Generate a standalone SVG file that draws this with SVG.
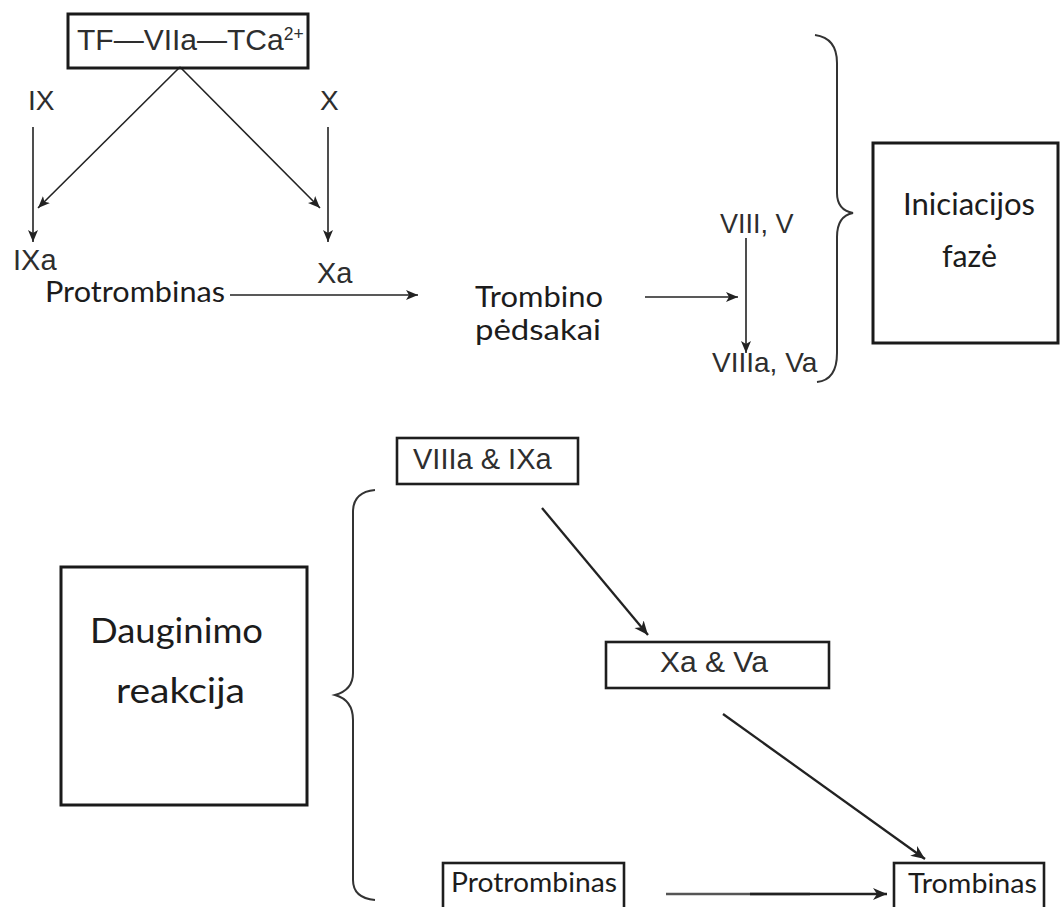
<svg xmlns="http://www.w3.org/2000/svg" width="1061" height="907" viewBox="0 0 1061 907">
<style>
.ar{font-family:"Liberation Sans",Arial,sans-serif;fill:#2e2e2e}
.ca{font-family:Lato,"Open Sans",sans-serif;fill:#1c1c1c}
.box{fill:none;stroke:#1a1a1a;stroke-width:3}
.box2{fill:none;stroke:#1e1e1e;stroke-width:2.6}
.ln{fill:none;stroke:#222;stroke-width:1.6;marker-end:url(#ah)}
.ln2{fill:none;stroke:#222;stroke-width:2.3;marker-end:url(#ah2)}
.br{fill:none;stroke:#333;stroke-width:2}
</style>
<defs>
<marker id="ah" markerUnits="userSpaceOnUse" markerWidth="14" markerHeight="12" refX="12" refY="5" orient="auto">
<path d="M0,0 L12,5 L0,10 L3,5 z" fill="#222"/>
</marker>
<marker id="ah2" markerUnits="userSpaceOnUse" markerWidth="16" markerHeight="14" refX="14" refY="6" orient="auto">
<path d="M0,0 L14,6 L0,12 L4,6 z" fill="#222"/>
</marker>
</defs>
<rect width="1061" height="907" fill="#fff"/>

<g id="connectors">
<line class="ln" x1="180" y1="67" x2="38" y2="208"/>
<line class="ln" x1="180" y1="67" x2="320" y2="208"/>
<line class="ln" x1="33" y1="127" x2="33" y2="242"/>
<line class="ln" x1="328" y1="127" x2="328" y2="242"/>
<line class="ln" x1="230" y1="295" x2="418" y2="295"/>
<line class="ln" x1="645" y1="297" x2="738" y2="297"/>
<line class="ln" x1="746" y1="238" x2="746" y2="353"/>
<line class="ln2" x1="542" y1="508" x2="648" y2="635"/>
<line class="ln2" x1="723" y1="714" x2="925" y2="859"/>
<line x1="666" y1="894" x2="810" y2="894" stroke="#555" stroke-width="2.3"/>
<line class="ln2" x1="750" y1="894" x2="887" y2="894"/>
</g>

<g id="braces">
<path class="br" d="M815,35 Q837,38 837,63 L837,193 Q837,210 853,213 Q837,216 837,237 L837,353 Q837,380 817,382"/>
<path class="br" d="M375,490 Q353,492 353,512 L353,673 Q353,690 335,695 Q353,700 353,720 L353,880 Q353,898 375,900"/>
</g>

<g id="n-complex">
<rect class="box" x="68" y="14" width="240" height="54"/>
<text class="ar" x="77" y="50" font-size="30">TF—VIIa—TCa<tspan font-size="17.5" dy="-10">2+</tspan></text>
</g>
<g id="n-IX"><text class="ar" x="28" y="110" font-size="28">IX</text></g>
<g id="n-X"><text class="ar" x="320" y="110" font-size="28">X</text></g>
<g id="n-IXa"><text class="ar" x="13" y="270" font-size="29">IXa</text></g>
<g id="n-Xa"><text class="ar" x="317" y="283" font-size="29">Xa</text></g>
<g id="n-protrombinas1"><text class="ca" x="45" y="302" font-size="29" textLength="180" lengthAdjust="spacingAndGlyphs">Protrombinas</text></g>
<g id="n-trombino">
<text class="ca" x="475" y="307" font-size="29" textLength="128" lengthAdjust="spacingAndGlyphs">Trombino</text>
<text class="ca" x="475" y="340" font-size="29" textLength="126" lengthAdjust="spacingAndGlyphs">pėdsakai</text>
</g>
<g id="n-VIII"><text class="ar" x="720" y="233" font-size="27">VIII, V</text></g>
<g id="n-VIIIa"><text class="ar" x="712" y="372" font-size="28">VIIIa, Va</text></g>
<g id="n-iniciacijos">
<rect class="box" x="873" y="143" width="185" height="200"/>
<text class="ca" x="903" y="215" font-size="30" textLength="132" lengthAdjust="spacingAndGlyphs">Iniciacijos</text>
<text class="ca" x="942" y="267" font-size="30" textLength="55" lengthAdjust="spacingAndGlyphs">fazė</text>
</g>

<g id="n-VIIIa-IXa">
<rect class="box2" x="397" y="438" width="181" height="46"/>
<text class="ar" x="413" y="469" font-size="29">VIIIa &amp; IXa</text>
</g>
<g id="n-dauginimo">
<rect class="box" x="61" y="567" width="246" height="238"/>
<text class="ca" x="90" y="643" font-size="35" textLength="173" lengthAdjust="spacingAndGlyphs">Dauginimo</text>
<text class="ca" x="116" y="703" font-size="35" textLength="129" lengthAdjust="spacingAndGlyphs">reakcija</text>
</g>
<g id="n-Xa-Va">
<rect class="box2" x="606" y="642" width="223" height="46"/>
<text class="ar" x="660" y="672" font-size="30">Xa &amp; Va</text>
</g>
<g id="n-protrombinas2">
<rect class="box2" x="443" y="863" width="181" height="52"/>
<text class="ca" x="451" y="892" font-size="27" textLength="166" lengthAdjust="spacingAndGlyphs">Protrombinas</text>
</g>
<g id="n-trombinas">
<rect class="box2" x="894" y="863" width="150" height="52"/>
<text class="ca" x="908" y="893" font-size="27" textLength="129" lengthAdjust="spacingAndGlyphs">Trombinas</text>
</g>
</svg>
